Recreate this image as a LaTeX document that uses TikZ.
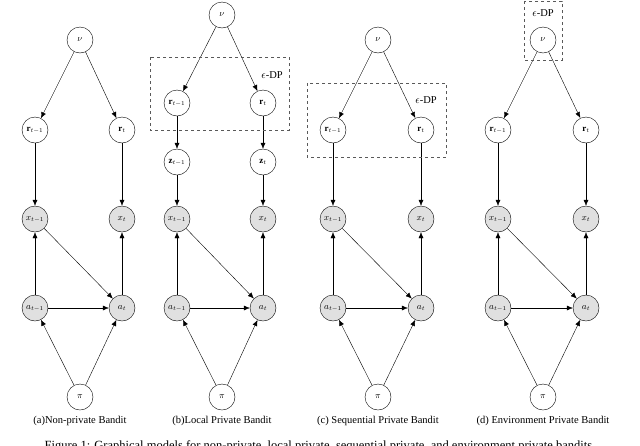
\documentclass[tikz,border=0pt]{standalone}
\usepackage{fontspec}
\setmainfont{Liberation Serif}
\usetikzlibrary{arrows.meta}
\begin{document}
\begin{tikzpicture}[x=1pt,y=-1pt,
  v/.style={circle,draw,thin,minimum size=26pt,inner sep=0pt,font=\small},
  obs/.style={v,fill=black!12},
  e/.style={-{Latex[length=6pt,width=5pt]},thin},
  box/.style={draw,dashed,thick,black!65},
  lbl/.style={font=\fontsize{10.5}{12}\selectfont}]
\useasboundingbox (0,0) rectangle (640,445);
\foreach \p/\l/\r/\m/\ny/\ry in {a/35/122/80/40/130, b/177/263/222/15/103, c/333/421/378/40/130, d/498/586/543/40/130}{
  \node[v] (\p nu) at (\m,\ny) {$\nu$};
  \node[v] (\p r1) at (\l,\ry) {$\mathbf{r}_{t-1}$};
  \node[v] (\p r2) at (\r,\ry) {$\mathbf{r}_{t}$};
  \node[obs] (\p x1) at (\l,219) {$x_{t-1}$};
  \node[obs] (\p x2) at (\r,219) {$x_t$};
  \node[obs] (\p a1) at (\l,308) {$a_{t-1}$};
  \node[obs] (\p a2) at (\r,308) {$a_t$};
  \node[v] (\p pi) at (\m,397) {$\pi$};
  \draw[e] (\p nu) -- (\p r1);
  \draw[e] (\p nu) -- (\p r2);
  \draw[e] (\p a1) -- (\p x1);
  \draw[e] (\p x1) -- (\p a2);
  \draw[e] (\p a2) -- (\p x2);
  \draw[e] (\p a1) -- (\p a2);
  \draw[e] (\p pi) -- (\p a1);
  \draw[e] (\p pi) -- (\p a2);
}
\foreach \p in {a,c,d}{
  \draw[e] (\p r1) -- (\p x1);
  \draw[e] (\p r2) -- (\p x2);
}
\node[v] (bz1) at (177,162) {$\mathbf{z}_{t-1}$};
\node[v] (bz2) at (263,162) {$\mathbf{z}_{t}$};
\draw[e] (br1) -- (bz1);
\draw[e] (br2) -- (bz2);
\draw[e] (bz1) -- (bx1);
\draw[e] (bz2) -- (bx2);
\draw[box] (150,57) rectangle (289,130);
\draw[box] (307,83) rectangle (446,157);
\draw[box] (524,1) rectangle (562,60);
\node[lbl] (epsb) at (272,75) {$\epsilon$-DP};
\node[lbl] (epsc) at (426,100) {$\epsilon$-DP};
\node[lbl] (epsd) at (543,13) {$\epsilon$-DP};
\node[lbl] (ca) at (80,421) {(a)Non-private Bandit};
\node[lbl] (cb) at (222,421) {(b)Local Private Bandit};
\node[lbl] (cc) at (378,421) {(c) Sequential Private Bandit};
\node[lbl] (cd) at (543,421) {(d) Environment Private Bandit};
\node[font=\fontsize{12.5}{14}\selectfont,anchor=base] (fig) at (320,449) {Figure 1: Graphical models for non-private, local private, sequential private, and environment private bandits.};
\end{tikzpicture}
\end{document}
